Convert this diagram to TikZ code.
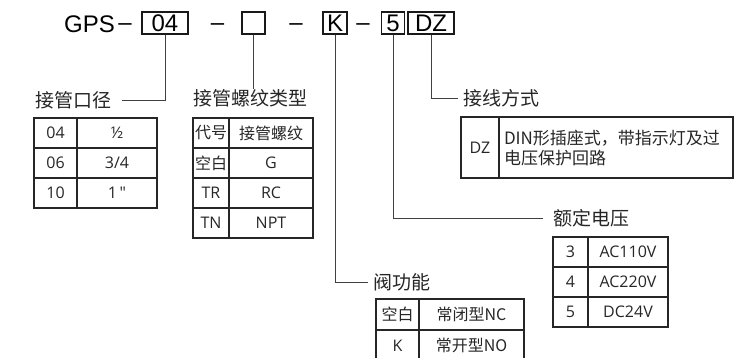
\documentclass[tikz,border=0pt]{standalone}
\usepackage{fontspec}
\newfontfamily\cjk{Noto Sans CJK SC}
\newfontfamily\latin{Open Sans}
\newfontfamily\gpsfont{Liberation Sans}
\usetikzlibrary{positioning, calc}

\begin{document}
\begin{tikzpicture}[
    x=1pt, y=-1pt,
    codebox/.style={rectangle, draw=black!90, line width=1.2pt, inner sep=0pt, minimum height=22, font=\gpsfont\fontsize{24}{26}\selectfont},
    codetext/.style={inner sep=0pt, anchor=base, font=\gpsfont\fontsize{24}{26}\selectfont},
    lbl/.style={inner sep=0pt, anchor=west, text=black!85, font=\cjk\fontsize{19}{22}\selectfont},
    cell/.style={rectangle, draw=black!85, line width=1.1pt, inner sep=0pt, minimum height=30, text=black!85, font=\latin\fontsize{16}{19}\selectfont},
    link/.style={draw=black!75, line width=1pt}
]
\useasboundingbox (0,0) rectangle (749,357);
\clip (0,0) rectangle (749,357);

% 型号编码
\node[codetext, anchor=base west] (gps) at (64,32) {GPS};
\node[codetext] (d0) at (125,30) {–};
\node[codebox, minimum width=46] (b04) at (165,23) {04};
\node[codetext] (d1) at (217.5,30) {–};
\node[codebox, minimum width=23] (bthr) at (253.5,23) {};
\node[codetext] (d2) at (296,30) {–};
\node[codebox, minimum width=24] (bk) at (335,23) {K};
\node[codetext] (d3) at (363,30) {–};
\node[codebox, minimum width=23] (b5) at (393,23) {5};
\node[codebox, minimum width=46] (bdz) at (431,23) {DZ};

% 标签
\node[lbl] (dia) at (35,100) {接管口径};
\node[lbl] (thr) at (193,98) {接管螺纹类型};
\node[lbl] (wire) at (463,98) {接线方式};
\node[lbl] (volt) at (553,218) {额定电压};
\node[lbl] (fn) at (373,282) {阀功能};

% 引线
\draw[link] (b04.south) |- ([xshift=11]dia.east);
\draw[link] (bthr.south) -- (bthr.south |- thr.north);
\draw[link] (bk.south) |- ([xshift=-5]fn.west);
\draw[link] (b5.south) |- ([xshift=-10]volt.west);
\draw[link] (bdz.south) |- ([xshift=-5]wire.west);

% 接管口径表
\foreach \code/\val [count=\i] in {04/{½}, 06/{3/4}, 10/{1\,"}}{
  \node[cell, minimum width=43] (dia-c\i) at (55.5,103+30*\i) {\code};
  \node[cell, minimum width=80] (dia-v\i) at (117,103+30*\i) {\val};
}

% 接管螺纹类型表
\foreach \code/\val [count=\i] in {{\cjk 代号}/{\cjk 接管螺纹}, {\cjk 空白}/G, TR/RC, TN/NPT}{
  \node[cell, minimum width=36] (thr-c\i) at (211,103+30*\i) {\code};
  \node[cell, minimum width=84] (thr-v\i) at (271,103+30*\i) {\val};
}

% 接线方式表
\node[cell, minimum width=38, minimum height=61] (wire-c) at (480,147.5) {DZ};
\node[cell, minimum width=234, minimum height=61, align=left, text width=224,
      font=\cjk\fontsize{17}{20}\selectfont] (wire-v) at (616,147.5)
      {DIN形插座式，带指示灯及过\\电压保护回路};

% 额定电压表
\foreach \code/\val [count=\i] in {3/AC110V, 4/AC220V, 5/DC24V}{
  \node[cell, minimum width=35] (volt-c\i) at (570.5,222+30*\i) {\code};
  \node[cell, minimum width=80] (volt-v\i) at (628,222+30*\i) {\val};
}

% 阀功能表
\foreach \code/\val [count=\i] in {{\cjk 空白}/{\cjk 常闭型NC}, K/{\cjk 常开型NO}}{
  \node[cell, minimum width=43, minimum height=31] (fn-c\i) at (397.5,283.5+31*\i) {\code};
  \node[cell, minimum width=105, minimum height=31] (fn-v\i) at (471.5,283.5+31*\i) {\val};
}

\end{tikzpicture}
\end{document}
